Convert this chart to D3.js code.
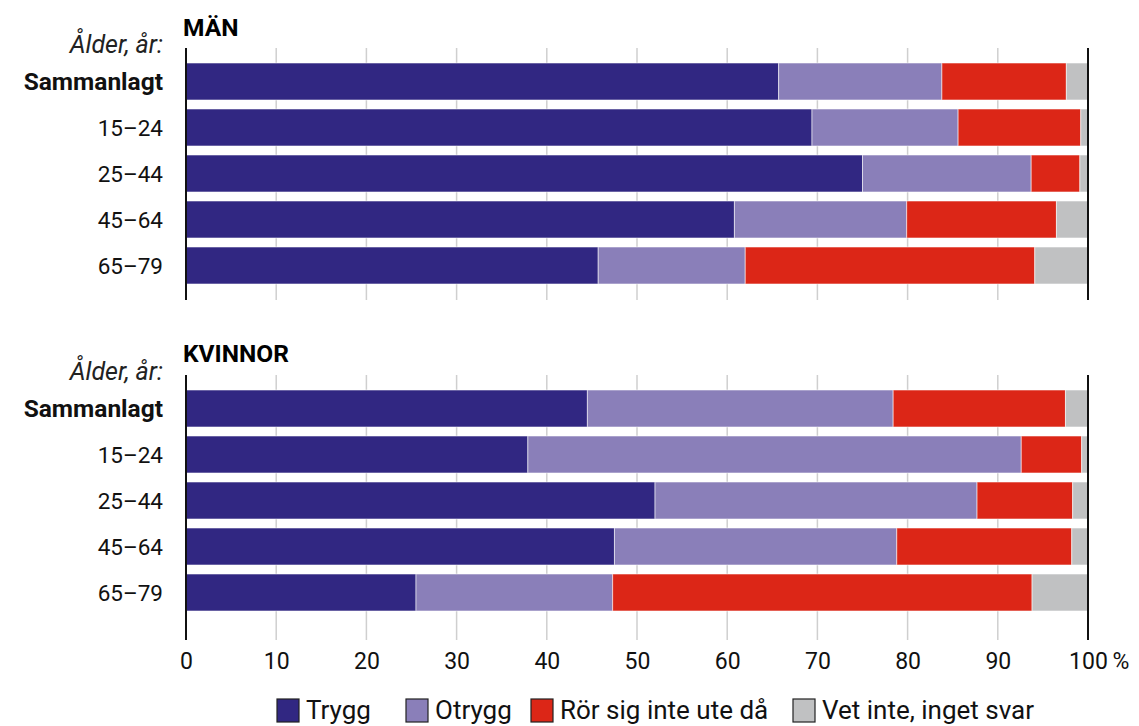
<!DOCTYPE html>
<html><head><meta charset="utf-8">
<script src="https://cdn.jsdelivr.net/npm/d3@7"></script>
<style>body{margin:0;background:#fff}svg{display:block}text{font-family:Roboto,"Liberation Sans",sans-serif}</style>
</head><body>
<svg id="c" width="1139" height="726"></svg>
<script>
const categories = ["Sammanlagt","15\u201324","25\u201344","45\u201364","65\u201379"];
const seriesNames = ["Trygg","Otrygg","Rör sig inte ute då","Vet inte, inget svar"];
const colors = ["#312782","#8a7fb9","#dc2617","#c0c1c2"];
// MÄN
const manTrygg  = [65.7, 69.4, 75.0, 60.8, 45.7];
const manOtrygg = [18.1, 16.2, 18.7, 19.1, 16.3];
const manRor    = [13.8, 13.6,  5.4, 16.6, 32.1];
const manVet    = [ 2.4,  0.8,  0.9,  3.5,  5.9];
// KVINNOR
const kvTrygg  = [44.5, 37.9, 52.0, 47.5, 25.5];
const kvOtrygg = [33.9, 54.7, 35.7, 31.3, 21.8];
const kvRor    = [19.1,  6.7, 10.6, 19.4, 46.5];
const kvVet    = [ 2.5,  0.7,  1.7,  1.8,  6.2];
const ticks = [0,10,20,30,40,50,60,70,80,90,100];

const svg = d3.select("#c");
const x = d3.scaleLinear().domain([0,100]).range([186,1088]);
const color = d3.scaleOrdinal().domain(seriesNames).range(colors);

function panel(title, data, titleY, axTop, axBottom, bandStart, showAxis){
  const rows = categories.map((c,i)=>{const o={cat:c}; seriesNames.forEach((s,j)=>o[s]=data[j][i]); return o;});
  const stack = d3.stack().keys(seriesNames)(rows);
  const y = d3.scaleBand().domain(categories).range([bandStart-4.5, bandStart-4.5+230]).paddingInner(0.196).paddingOuter(0.098);
  const g = svg.append("g");
  g.selectAll("line.grid").data(ticks.filter(t=>t>0&&t<100)).join("line")
    .attr("x1",d=>x(d)).attr("x2",d=>x(d)).attr("y1",axTop).attr("y2",axBottom)
    .attr("stroke","#cfcfcf").attr("stroke-width",1.5);
  g.selectAll("g.s").data(stack).join("g").attr("fill",d=>color(d.key))
    .selectAll("rect").data(d=>d).join("rect")
    .attr("x",d=>x(d[0])).attr("width",d=>x(d[1])-x(d[0]))
    .attr("y",d=>y(d.data.cat)).attr("height",y.bandwidth())
    .attr("stroke","rgba(255,255,255,0.55)").attr("stroke-width",1);
  [0,100].forEach(v=>g.append("line").attr("x1",x(v)).attr("x2",x(v)).attr("y1",axTop).attr("y2",axBottom)
    .attr("stroke","#111").attr("stroke-width",2));
  g.append("text").attr("x",183).attr("y",titleY).attr("font-size",24.5).attr("font-weight",700).text(title);
  g.append("text").attr("x",163).attr("y",bandStart-10).attr("text-anchor","end").attr("font-size",25)
    .attr("font-style","italic").attr("fill","#222").text("Ålder, år:");
  g.selectAll("text.cat").data(categories).join("text")
    .attr("x",163).attr("y",d=>y(d)+y.bandwidth()/2).attr("dy","0.36em").attr("text-anchor","end")
    .attr("font-size",(d,i)=>i===0?24.5:22.5).attr("font-weight",(d,i)=>i===0?700:400).attr("fill","#111").text(d=>d);
  if(showAxis){
    const ax = g.append("g").attr("transform",`translate(0,${axBottom})`)
      .call(d3.axisBottom(x).tickValues(ticks).tickSize(0).tickPadding(13).tickFormat(d=>d));
    ax.select(".domain").remove();
    ax.selectAll("text").attr("font-size",23).attr("fill","#111").attr("font-family","Roboto,sans-serif");
    ax.selectAll(".tick").filter(d=>d===100).append("text").attr("x",24).attr("y",13).attr("dy","0.71em")
      .attr("text-anchor","start").attr("font-size",23).attr("fill","#111").text("%");
  }
}
panel("MÄN", [manTrygg,manOtrygg,manRor,manVet], 36, 48, 300, 63, false);
panel("KVINNOR", [kvTrygg,kvOtrygg,kvRor,kvVet], 362, 375, 640, 390, true);

const legX = [276, 405, 530, 792];
const lg = svg.append("g");
seriesNames.forEach((s,i)=>{
  lg.append("rect").attr("x",legX[i]+1).attr("y",699).attr("width",22).attr("height",23)
    .attr("fill",color(s)).attr("stroke","#222").attr("stroke-width",1.2);
  lg.append("text").attr("x",legX[i]+30).attr("y",718.5).attr("font-size",26)
    .attr("fill","#111").text(s);
});
</script>
</body></html>
